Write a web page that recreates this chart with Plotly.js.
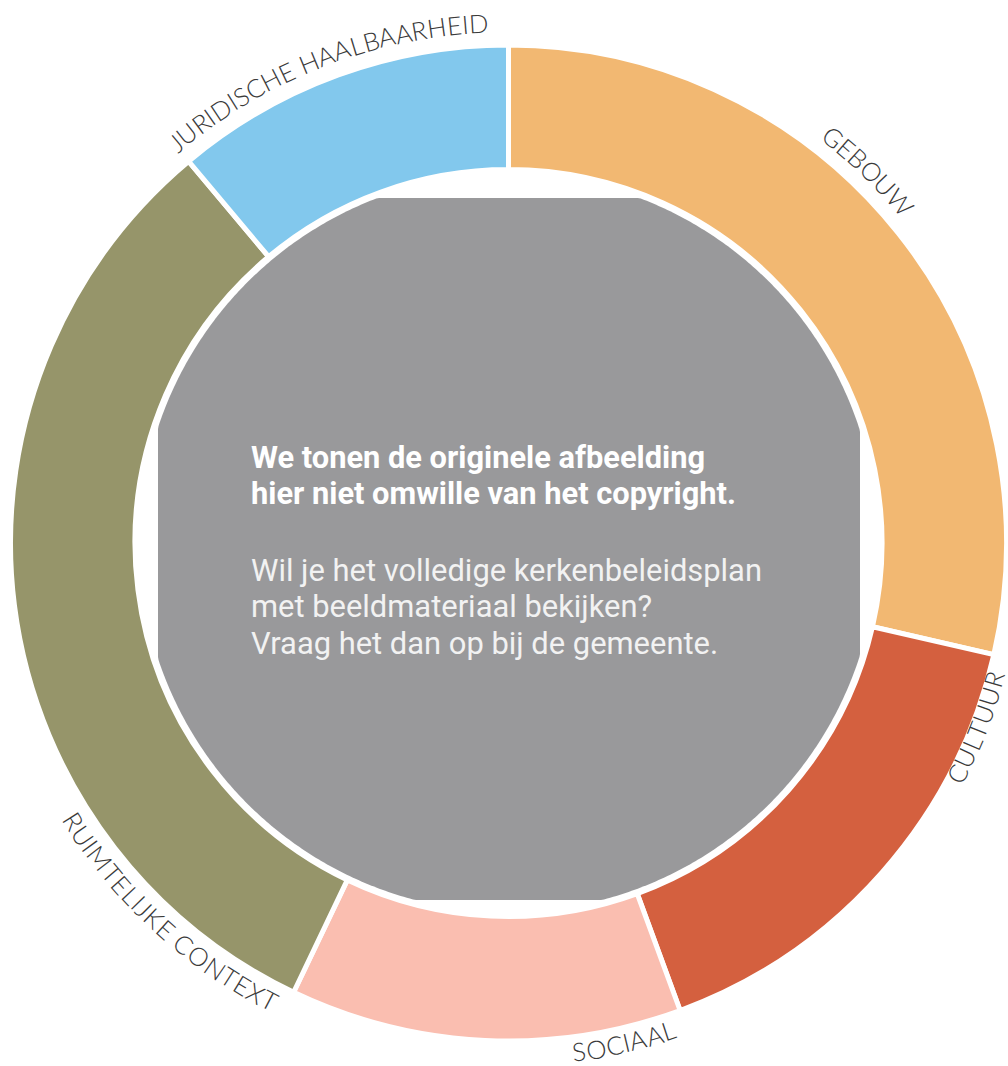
<!DOCTYPE html>
<html>
<head>
<meta charset="utf-8">
<script src="https://cdn.plot.ly/plotly-3.0.1.min.js"></script>
<style>
html,body{margin:0;padding:0;background:#fff;}
#chart{width:1008px;height:1066px;}
</style>
</head>
<body>
<div id="chart"></div>
<script>
// ---- data ----
const categories = ['GEBOUW', 'CULTUUR', 'SOCIAAL', 'RUIMTELIJKE CONTEXT', 'JURIDISCHE HAALBAARHEID'];
const shares = [28.6, 15.8, 12.7, 31.8, 11.1];
const sliceColors = ['#F2B872', '#D4603F', '#FABEB0', '#96956A', '#82C8ED'];
const boldLines = ['We tonen de originele afbeelding', 'hier niet omwille van het copyright.'];
const plainLines = ['Wil je het volledige kerkenbeleidsplan', 'met beeldmateriaal bekijken?', 'Vraag het dan op bij de gemeente.'];

// ---- layout constants ----
const W = 1008, H = 1066;
const CX = 508.5, CY = 543, R = 498;
const labelAngle = [44, 111.5, 167, 222.5, 338.7];   // clockwise from 12 o'clock
const labelInward = [false, true, true, true, false];
const labelRadius = [520, 504, 513, 516, 521];
const labelFont = 'Lato';
const labelSize = 25.5;
const labelSpacing = 0.3;

const px = x => x / W;
const py = y => 1 - y / H;

const cv = document.createElement('canvas');
const ctx = cv.getContext('2d');

const annotations = [];
ctx.font = '300 ' + labelSize + 'px ' + labelFont;
categories.forEach((lab, i) => {
  const rr = labelRadius[i];
  const chars = lab.split('');
  const widths = chars.map(c => ctx.measureText(c).width + labelSpacing);
  const total = widths.reduce((a, b) => a + b, 0) - labelSpacing;
  const totAng = total / rr * 180 / Math.PI;
  const dir = labelInward[i] ? -1 : 1;
  let acc = 0;
  chars.forEach((c, k) => {
    const mid = acc + (widths[k] - labelSpacing) / 2;
    acc += widths[k];
    if (c === ' ') return;
    const ang = labelAngle[i] + dir * (mid / rr * 180 / Math.PI - totAng / 2);
    const a = ang * Math.PI / 180;
    const x = CX + rr * Math.sin(a);
    const y = CY - rr * Math.cos(a);
    annotations.push({
      x: px(x), y: py(y), xref: 'paper', yref: 'paper',
      text: c, showarrow: false, xanchor: 'center', yanchor: 'middle',
      textangle: labelInward[i] ? ang - 180 : ang,
      font: {family: labelFont, size: labelSize, color: '#3a3a3a', weight: 300}
    });
  });
});

// centre text, sized to the reference line widths
const textX = 249;
const lineYs = [457, 493, 570, 606, 643];
const boldTargetW = 454, plainTargetW = 511;
ctx.font = 'bold 100px Roboto';
const boldSize = Math.round(100 * boldTargetW / ctx.measureText(boldLines[0]).width * 10) / 10;
ctx.font = '100px Roboto';
const plainSize = Math.round(100 * plainTargetW / ctx.measureText(plainLines[0]).width * 10) / 10;

const allLines = boldLines.map(t => ({t: '<b>' + t + '</b>', c: '#ffffff', s: boldSize}))
  .concat(plainLines.map(t => ({t: t, c: '#f2f2f2', s: plainSize})));
allLines.forEach((l, i) => {
  annotations.push({
    x: px(textX), y: py(lineYs[i]), xref: 'paper', yref: 'paper',
    text: l.t, showarrow: false, xanchor: 'left', yanchor: 'middle', align: 'left',
    font: {family: 'Roboto', size: l.s, color: l.c}
  });
});

// grey placeholder: disc clipped to a square
const GR = 369, gx0 = 158, gx1 = 860, gy0 = 198, gy1 = 900;
let path = '';
for (let k = 0; k <= 720; k++) {
  const t = k / 720 * 2 * Math.PI;
  let x = CX + GR * Math.cos(t), y = CY + GR * Math.sin(t);
  x = Math.min(Math.max(x, gx0), gx1);
  y = Math.min(Math.max(y, gy0), gy1);
  path += (k === 0 ? 'M' : 'L') + px(x).toFixed(5) + ',' + py(y).toFixed(5);
}
path += 'Z';

const trace = {
  type: 'pie',
  labels: categories,
  values: shares,
  sort: false,
  direction: 'clockwise',
  rotation: 0,
  hole: 0.75,
  textinfo: 'none',
  hoverinfo: 'label+percent',
  marker: {colors: sliceColors, line: {color: '#ffffff', width: 5}},
  domain: {x: [px(CX - R), px(CX + R)], y: [py(CY + R), py(CY - R)]},
  showlegend: false
};

const layout = {
  width: W, height: H,
  margin: {l: 0, r: 0, t: 0, b: 0},
  paper_bgcolor: '#ffffff',
  showlegend: false,
  shapes: [{type: 'path', xref: 'paper', yref: 'paper', path: path,
            fillcolor: '#99999b', line: {width: 0}, layer: 'above'}],
  annotations: annotations
};

Plotly.newPlot('chart', [trace], layout, {displayModeBar: false, staticPlot: true});
</script>
</body>
</html>
